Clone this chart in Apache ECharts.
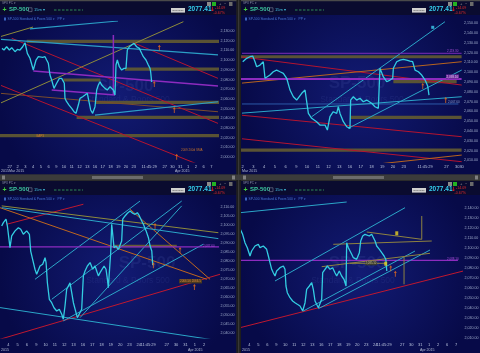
<!DOCTYPE html>
<html>
<head>
<meta charset="utf-8">
<title>SP-500</title>
<script src="https://cdn.jsdelivr.net/npm/echarts/dist/echarts.min.js"></script>
<style>
* { margin: 0; padding: 0; }
body { background: #2b2b2b; }
#mychart { width: 480px; height: 353px; }
</style>
</head>
<body>
<div id="mychart"></div>
<script>
const lastPrice = 2077.41

// x tick labels, index = tick value
const daysTL = ['', '27', '2', '3', '4', '5', '6', '9', '10', '11', '12', '13', '16', '17', '18', '19', '20', '23', '', '11:45:29', '', '27', '30', '31', '1', '2', '6', '7', '']
const daysTR = ['2', '3', '4', '5', '6', '9', '10', '11', '12', '13', '16', '17', '18', '19', '20', '23', '', '11:45:29', '', '27', '30']
const daysBL = ['4', '5', '6', '9', '10', '11', '12', '13', '16', '17', '18', '19', '20', '23', '24', '11:45:29', '', '27', '30', '31', '1', '2', '']
const daysBR = ['4', '5', '6', '9', '10', '11', '12', '13', '16', '17', '18', '19', '20', '23', '24', '11:45:29', '', '27', '30', '31', '1', '2', '6', '7']

// price paths [day, price]
const priceTL = [[0,2112.1],[0.26,2110.4],[0.6,2113.8],[0.95,2110.4],[1.25,2112.8],[1.68,2108.7],[1.98,2111.1],[2.32,2110.4],[2.67,2113.8],[2.97,2117.9],[3.27,2107],[3.61,2101.9],[4.04,2089.8],[4.39,2100.1],[4.69,2103.5],[4.9,2105.3],[5.25,2102.9],[5.55,2103.5],[5.76,2100.1],[5.98,2096.7],[6.19,2084.6],[6.41,2079.5],[6.71,2070.9],[7.05,2076.1],[7.4,2081.2],[7.7,2081.2],[7.91,2082.9],[8.04,2076.1],[8.13,2060.6],[8.34,2057.1],[8.65,2053.7],[8.99,2050.3],[9.29,2046.8],[9.55,2045.2],[9.85,2053.7],[10.06,2060.6],[10.41,2062.3],[10.71,2064],[11.01,2065.8],[11.27,2055.4],[11.44,2048.6],[11.7,2045.2],[12,2052],[12.22,2069.2],[12.43,2074.3],[12.65,2077.7],[12.86,2074.3],[13.08,2076.1],[13.29,2070.9],[13.59,2069.2],[13.94,2072.6],[14.37,2069.2],[14.58,2064],[14.71,2095],[14.88,2100.1],[15.14,2093.2],[15.44,2089.8],[15.74,2091.5],[16,2091.5],[16.17,2110.4],[16.43,2113.8],[16.73,2115.6],[17.03,2117.3],[17.38,2113.8],[17.72,2112.1],[18.02,2107],[18.24,2103.5],[18.58,2100.1],[18.88,2095],[19.1,2091.5],[19.18,2088],[19.31,2077.4]]
const priceTR = [[0,2110.7],[0.06,2112.4],[0.37,2114.2],[0.68,2115.8],[0.93,2116.5],[1.15,2110.7],[1.3,2105.6],[1.61,2107.3],[1.92,2110.7],[2.08,2093.8],[2.23,2092],[2.54,2097.1],[2.85,2100.5],[3.16,2102.2],[3.48,2100.5],[3.79,2098.9],[4.1,2093.8],[4.41,2081.8],[4.72,2075],[5.03,2071.6],[5.19,2073.4],[5.5,2078.5],[5.81,2081.8],[5.96,2080.1],[6.12,2058],[6.43,2053],[6.89,2049.5],[7.2,2046.1],[7.67,2046.1],[7.89,2041],[8.13,2054.6],[8.44,2059.7],[8.76,2058],[8.91,2064.8],[9.07,2058],[9.38,2049.5],[9.69,2044.4],[10,2042.7],[10.06,2071.6],[10.31,2075],[10.62,2071.6],[10.93,2073.4],[11.24,2069.9],[11.55,2071.6],[12.02,2068.3],[12.33,2064.8],[12.64,2063.2],[12.79,2104],[13.1,2095.4],[13.42,2090.3],[13.73,2092],[13.98,2093.8],[14.04,2104],[14.35,2110.7],[14.66,2112.4],[14.97,2113.2],[15.28,2112.4],[15.59,2111.4],[15.84,2110.7],[16.06,2102.2],[16.37,2100.5],[16.68,2097.1],[17,2092],[17.14,2090.3],[17.24,2086],[17.36,2076.7]]
const priceBL = [[-0.71,2099.2],[-0.53,2101.1],[-0.25,2103],[-0.1,2099.2],[0.18,2087.2],[0.36,2093.7],[0.72,2096.5],[1.08,2098.3],[1.33,2097.4],[1.61,2094.6],[1.97,2096.5],[2.26,2094.6],[2.4,2085.3],[2.69,2078.9],[2.86,2075.2],[3.04,2072.4],[3.22,2073.3],[3.4,2077],[3.69,2078],[3.94,2081.6],[4.05,2078.9],[4.19,2067.7],[4.4,2058.5],[4.65,2056.6],[4.9,2053.8],[5.19,2052],[5.47,2053],[5.73,2050.2],[5.9,2047.4],[6.08,2054.8],[6.26,2064.1],[6.44,2065.9],[6.62,2067.7],[6.8,2062.2],[6.98,2056.6],[7.26,2051.1],[7.41,2048.3],[7.62,2049.2],[7.87,2053],[8.05,2071.5],[8.23,2074.2],[8.48,2077],[8.77,2078.9],[9.05,2075.2],[9.3,2077],[9.48,2074.2],[9.66,2071.5],[9.84,2073.3],[10.02,2074.2],[10.27,2077],[10.48,2075.2],[10.63,2069.6],[10.73,2065],[10.91,2065.9],[10.98,2084.4],[11.09,2100.2],[11.34,2087.2],[11.56,2088.1],[11.81,2086.3],[11.99,2087.2],[12.16,2090.9],[12.27,2103],[12.52,2104.8],[12.77,2106.3],[13.06,2107.6],[13.34,2106.3],[13.59,2105.7],[13.84,2106.6],[14.06,2104.8],[14.31,2102],[14.49,2100.2],[14.78,2096.5],[15.03,2092.7],[15.21,2088.1],[15.39,2085.3],[15.49,2077.4]]
const priceBR = [[-1,2119.1],[-0.74,2114.1],[-0.48,2105.7],[-0.22,2100.7],[0.08,2092.4],[0.26,2097.4],[0.63,2102.4],[1,2104.1],[1.19,2100.7],[1.56,2102.4],[1.93,2099.1],[2.12,2092.4],[2.3,2085.7],[2.49,2079.1],[2.67,2075.7],[2.86,2072.4],[3.04,2077.4],[3.41,2080.7],[3.79,2082.4],[3.97,2079.1],[4.08,2062.4],[4.23,2055.7],[4.53,2050.7],[4.82,2047.4],[5.08,2045.7],[5.34,2044.1],[5.64,2042.4],[5.94,2037.4],[6.2,2045.7],[6.38,2059.1],[6.68,2062.4],[6.94,2065.7],[7.12,2059.1],[7.31,2047.4],[7.49,2044.1],[7.68,2040.7],[7.86,2042.4],[8.05,2049.1],[8.16,2075.7],[8.42,2079.1],[8.68,2082.4],[8.98,2079.1],[9.27,2080.7],[9.53,2075.7],[9.72,2072.4],[10.01,2077.4],[10.27,2072.4],[10.53,2069.1],[10.76,2062.4],[10.83,2105.7],[11.02,2100.7],[11.39,2094.1],[11.57,2090.7],[11.76,2092.4],[11.94,2089.1],[12.24,2095.7],[12.39,2107.4],[12.61,2112.4],[12.87,2114.1],[13.06,2115.1],[13.35,2112.4],[13.61,2114.1],[13.8,2112.4],[13.99,2107.4],[14.17,2102.4],[14.47,2099.1],[14.73,2095.7],[14.99,2092.4],[15.18,2089.1],[15.29,2077.4]]

// drawn studies, each a segment [[day, price], [day, price]]
const tlBands = [[[3.19,2119.4],[28,2119.4]], [[15.87,2090.8],[28,2090.8]], [[7.9,2079.5],[12.7,2079.5]], [[12,2056.5],[28,2056.5]], [[9.63,2041],[28,2041]], [[-0.3,2022.1],[28,2022.1]]]
const tlOlive = [[[-0.26,2055.5],[23.4,2139.6]], [[-0.26,2124.1],[4,2134.1]]]
const tlTeal = [[[-0.26,2121.4],[27.87,2105.3]], [[12,2043.4],[27.87,2057.1]], [[3.61,2132.1],[14.97,2140.3]]]
const tlPurple = [[[4.04,2088.8],[27.87,2073.3]], [[6.41,2069.2],[14.58,2064]], [[14.37,2125.9],[14.37,2064]]]
const tlRed = [[[1.25,2122.5],[27.87,2034.8]], [[16.95,2117.9],[27.87,2081.2]], [[-0.26,2074.3],[25.5,1991.9]]]
const tlBrown = [[[-0.26,2065.8],[27.87,2046.8]]]
const tlMarks = [[20.3,2112.8],[19.65,2075.4],[22.23,2048.6],[22.54,2000.4]]

const trBands = [[[-0.3,2115.8],[20.4,2115.8]], [[14.04,2090.3],[19.94,2090.3]], [[10,2054],[20.4,2054]], [[-0.3,2020.6],[20.4,2020.6]]]
const trTeal = [[[6.43,2054.6],[18.85,2151.5]], [[9.84,2042.8],[20.41,2102.2]], [[-0.25,2058.1],[20.41,2075]]]
const trBlue = [[[-0.3,2067.6],[20.1,2067.6]]]
const trPurpleThin = [[[-0.3,2119.3],[20.4,2119.3]]]
const trPurple = [[[-0.3,2093.1],[20.4,2093.1]]]
const trRed = [[[-0.25,2115.8],[20.41,2086.9]], [[-0.25,2056.3],[20.41,2034.2]], [[-0.25,2032.3],[20.41,2008.7]]]
const trOrange = [[[-0.25,2088.7],[20.41,2110.7]], [[11.7,2005.3],[20.41,2015.5]]]
const trMarks = [[16.78,2085.9],[18.92,2071.6]]
const trCyanMark = [[17.71,2145.8]]

const blOlive = [[[-0.71,2110.4],[22.53,2095.5]]]
const blTeal = [[[-0.71,2109.4],[22.53,2092.2]], [[-0.89,2053.9],[22.71,2035.4]], [[2.86,2069.6],[14.13,2113.1]], [[4.66,2058.5],[18.6,2113.1]], [[5.9,2046.5],[20.92,2089.1]], [[7.69,2048.3],[18.6,2110.4]]]
const blRed = [[[-0.17,2100.2],[8.05,2111.3]], [[-0.89,2036.3],[22.71,2072.4]]]
const blOrange = [[[-0.89,2109.4],[21.29,2069.6]], [[13.06,2108.5],[21.64,2069.6]]]
const blPurple = [[[-1,2087.6],[22.6,2087.6]]]
const blBands = [[[11.23,2088.1],[18.07,2088.1]]]
const blMarks = [[15.74,2099.2],[18.42,2085.9],[15.56,2077.4],[19.96,2065.4]]

const brTeal = [[[-1.03,2135.7],[10.83,2146.4]], [[2.86,2067.4],[17.32,2140.7]], [[6.01,2037.4],[18.43,2097.4]], [[7.68,2039.7],[20.1,2098.4]]]
const brOlive = [[[9.34,2104.1],[20.29,2107.4]], [[13.06,2116.4],[19.18,2109.1]], [[8.05,2081.7],[20.1,2095.1]], [[19.18,2132.4],[19.18,2109.1]], [[17.21,2092.4],[17.21,2064.1]], [[11.2,2085.1],[15.28,2085.1]]]
const brPurple = [[[-1,2088.1],[23.2,2088.1]]]
const brRed = [[[-1.03,2020.7],[23.8,2077.4]]]
const brMarks = [[15.73,2080.1],[16.24,2074.7]]
const brYellow = [[16.4,2115.1],[15.17,2084.7]]

function fmt(v) {
    return v.toLocaleString('en-US', { minimumFractionDigits: 2, maximumFractionDigits: 2 })
}

const FONT = '"Liberation Sans", Arial, sans-serif'

const panels = [
    { grid: { left: 2, top: 21.3, width: 217, height: 140.7 }, x: [0, 28], y: [1995, 2140], step: 10, yl: [2000, 2130], days: daysTL, xm: 2.5, ym: 1.5 },
    { grid: { left: 242.7, top: 18.3, width: 218.9, height: 144.1 }, x: [0, 20.4], y: [2008, 2155], step: 10, yl: [2010, 2150], days: daysTR, xm: 2.5, ym: 2.5 },
    { grid: { left: -1, top: 199.4, width: 220, height: 138.6 }, x: [-1, 22.6], y: [2037, 2114], step: 5, yl: [2040, 2110], days: daysBL, xm: 4.5, ym: 1.5 },
    { grid: { left: 240.3, top: 199.4, width: 221.2, height: 139 }, x: [-1, 23.6], y: [2010, 2149], step: 10, yl: [2010, 2140], days: daysBR, xm: 4, ym: 3 }
]

function segs(gi, list, color, width, z, opacity) {
    return list.map(function (p) {
        return {
            type: 'line', xAxisIndex: gi, yAxisIndex: gi, data: p, symbol: 'none', silent: true,
            lineStyle: { color: color, width: width, opacity: opacity == null ? 1 : opacity }, z: z
        }
    })
}

function marks(gi, list, color, symbol, size) {
    return {
        type: 'scatter', xAxisIndex: gi, yAxisIndex: gi, data: list, silent: true,
        symbol: symbol, symbolSize: size, itemStyle: { color: color }, z: 6
    }
}

function priceSeries(gi, data) {
    return {
        type: 'line', xAxisIndex: gi, yAxisIndex: gi, data: data, symbol: 'none', silent: true,
        lineStyle: { color: '#33cde2', width: 1.3 }, z: 5,
        markLine: {
            silent: true, symbol: ['none', 'none'],
            lineStyle: { opacity: 0 },
            label: {
                show: true, position: 'end', distance: 1.5, formatter: fmt(lastPrice),
                backgroundColor: '#cfcfcf', color: '#111', fontSize: 3.6, fontFamily: FONT,
                padding: [0.8, 1.2]
            },
            data: [{ yAxis: lastPrice }]
        }
    }
}

const arrow = 'path://M2,0L4,3H2.6V8H1.4V3H0Z'

function t(x, y, text, font, fill, align, z) {
    return {
        type: 'text', x: x, y: y, z: z == null ? 60 : z, silent: true,
        style: { text: text, font: font, fill: fill, textAlign: align || 'left', align: align || 'left', textVerticalAlign: 'middle', verticalAlign: 'middle' }
    }
}
function r(x, y, w, h, fill, z) {
    return { type: 'rect', silent: true, z: z == null ? 60 : z, shape: { x: x, y: y, width: w, height: h }, style: { fill: fill } }
}

function deco(x0, hy, w, plotBottom, wm) {
    const els = []
    els.push({
        type: 'rect', silent: true, z: -10, shape: { x: x0, y: hy + 15, width: w, height: plotBottom - hy - 15 },
        style: { fill: new echarts.graphic.RadialGradient(0.5, 0.5, 0.75, [{ offset: 0, color: '#121b74' }, { offset: 1, color: '#070a48' }]) }
    })
    els.push(r(x0, hy + 1, w, 14, '#0a0b2f', -9))
    els.push(t(x0 + 2, hy + 3.3, 'SPX PC ▾', '3px ' + FONT, '#8a8ea8'))
    els.push(t(x0 + 2.5, hy + 9.7, '+', 'bold 7px ' + FONT, '#3fcf3f'))
    els.push(t(x0 + 9, hy + 9.7, 'SP-500', 'bold 6px ' + FONT, '#3ccaa0'))
    els.push({ type: 'rect', silent: true, z: 60, shape: { x: x0 + 28.5, y: hy + 7.8, width: 3.5, height: 3.8 }, style: { fill: 'none', stroke: '#7a7f99', lineWidth: 0.6 } })
    els.push(t(x0 + 34, hy + 9.7, '15m ▾', '4px ' + FONT, '#42c2de'))
    els.push({ type: 'line', silent: true, z: 60, shape: { x1: x0 + 54, y1: hy + 10, x2: x0 + 83, y2: hy + 10 }, style: { stroke: '#2c8a55', lineWidth: 1, lineDash: [2.5, 1.5] } })
    els.push(r(x0 + 171, hy + 8, 14, 4.6, '#cfcfcf'))
    els.push(t(x0 + 178, hy + 10.4, 'Real-Time', '2.4px ' + FONT, '#333', 'center', 61))
    els.push(t(x0 + 188, hy + 9.4, '2077.41', 'bold 6.5px ' + FONT, '#35d3f2'))
    els.push(t(x0 + 210, hy + 9.6, '↓', 'bold 6px "DejaVu Sans"', '#e01e1e'))
    els.push(t(x0 + 215, hy + 8, '-14.09', '3.6px ' + FONT, '#e52a2a'))
    els.push(t(x0 + 213.5, hy + 13.3, '-0.67%', '3.6px ' + FONT, '#e52a2a'))
    els.push(r(x0 + 207, hy + 2, 4, 4, '#8a8a8a'))
    els.push(r(x0 + 212, hy + 2, 4, 4, '#22b322'))
    els.push(t(x0 + 219, hy + 4, '+', '4px ' + FONT, '#9a9a9a'))
    els.push(t(x0 + 224, hy + 4, '−', '4px ' + FONT, '#9a9a9a'))
    els.push(r(x0 + 229, hy + 2, 3.5, 4, '#6b6b6b'))
    els.push(r(x0 + 4, hy + 17.6, 2, 3, '#3c64c0'))
    els.push(t(x0 + 7.5, hy + 19.2, 'SP-500 Standard & Poors 500 ▾   PP ▾', '3.3px ' + FONT, '#4a79d6'))
    els.push(t(wm[0], wm[1], 'SP-500', 'bold 17px ' + FONT, 'rgba(120,140,215,0.11)', 'center', 1))
    els.push(t(wm[2], wm[3], 'Standard & Poors 500', '8.5px ' + FONT, 'rgba(120,140,215,0.11)', 'center', 1))
    return els
}

function initChart() {
    const chart = echarts.init(document.getElementById('mychart'))
    const grid = [], xAxis = [], yAxis = []
    panels.forEach(function (p, i) {
        grid.push(Object.assign({ show: false, outerBoundsMode: 'none', containLabel: false }, p.grid))
        xAxis.push({
            type: 'value', gridIndex: i, min: p.x[0], max: p.x[1], interval: 1,
            axisLine: { show: false }, axisTick: { show: false }, splitLine: { show: false },
            axisLabel: {
                margin: p.xm, fontSize: 4, fontFamily: FONT, color: '#b8c2dc', showMinLabel: true, showMaxLabel: true,
                formatter: function (v) { const s = p.days[Math.round(v)]; return s == null ? '' : s }
            }
        })
        yAxis.push({
            type: 'value', gridIndex: i, position: 'right', min: p.y[0], max: p.y[1], interval: 1,
            axisLine: { show: false }, axisTick: { show: false }, splitLine: { show: false },
            axisLabel: {
                margin: p.ym, fontSize: 3.6, fontFamily: FONT, color: '#9eabcb', showMinLabel: true, showMaxLabel: true,
                formatter: function (v) {
                    const n = Math.round(v)
                    return (n % p.step === 0 && n >= p.yl[0] && n <= p.yl[1]) ? fmt(n) : ''
                }
            }
        })
    })

    let series = []
    // top left
    series = series.concat(segs(0, tlBands, '#5f5733', 3.2, 2, 0.95))
    series = series.concat(segs(0, tlBrown, '#7b4d2c', 1, 3))
    series = series.concat(segs(0, tlRed, '#b5142f', 1, 3))
    series = series.concat(segs(0, tlOlive, '#8e8b3a', 1, 3))
    series = series.concat(segs(0, tlTeal, '#2b9fc6', 1.2, 3))
    series = series.concat(segs(0, tlPurple, '#8d2bbf', 1.5, 3))
    series.push(priceSeries(0, priceTL))
    series.push(marks(0, tlMarks, '#ee6f1c', arrow, [3, 6]))
    // top right
    series = series.concat(segs(1, trBands, '#5f5733', 3.2, 2, 0.95))
    series = series.concat(segs(1, trRed, '#b5142f', 1, 3))
    series = series.concat(segs(1, trOrange, '#b8641e', 1, 3))
    series = series.concat(segs(1, trBlue, '#2c5aa8', 1, 3))
    series = series.concat(segs(1, trTeal, '#2ba6c8', 1, 3))
    series = series.concat(segs(1, trPurpleThin, '#7c2cb8', 1, 3))
    series = series.concat(segs(1, trPurple, '#8d2bbf', 2.2, 3))
    series.push(priceSeries(1, priceTR))
    series.push(marks(1, trMarks, '#ee6f1c', arrow, [3, 6]))
    series.push(marks(1, trCyanMark, '#3fd0f0', 'rect', [3, 3]))
    // bottom left
    series = series.concat(segs(2, blBands, '#6b5f30', 2.6, 2, 0.95))
    series = series.concat(segs(2, blRed, '#c0182f', 1, 3))
    series = series.concat(segs(2, blOrange, '#c0671e', 1, 3))
    series = series.concat(segs(2, blOlive, '#8e8b3a', 1, 3))
    series = series.concat(segs(2, blTeal, '#2ba6c8', 1, 3))
    series = series.concat(segs(2, blPurple, '#8d2bbf', 1.3, 3))
    series.push(priceSeries(2, priceBL))
    series.push(marks(2, blMarks, '#ee6f1c', arrow, [3, 6]))
    // bottom right
    series = series.concat(segs(3, brRed, '#c0182f', 1, 3))
    series = series.concat(segs(3, brPurple, '#8d2bbf', 1.3, 3))
    series = series.concat(segs(3, brTeal, '#2ba6c8', 1, 3))
    series = series.concat(segs(3, brOlive, '#8e8240', 1, 3))
    series.push(priceSeries(3, priceBR))
    series.push(marks(3, brMarks, '#ee6f1c', arrow, [3, 6]))
    series.push(marks(3, brYellow, '#e8d020', 'rect', [3, 4]))

    let els = []
    els = els.concat(deco(0, 0, 236.5, 174.5, [125, 86, 128, 100]))
    els = els.concat(deco(241, 0, 239, 174.5, [357, 83, 362, 100]))
    els = els.concat(deco(0, 180, 236.5, 353, [147, 263, 128, 281]))
    els = els.concat(deco(241, 180, 239, 353, [357, 263, 353, 281]))

    // date rows and annotations
    const small = '3.6px ' + FONT
    els.push(t(1, 171, '2015', small, '#b4bcd4'), t(9, 171, 'Mar 2015', small, '#b4bcd4'), t(175, 171, 'Apr 2015', small, '#b4bcd4'))
    els.push(t(242, 171, 'Mar 2015', small, '#b4bcd4'))
    els.push(t(1, 349.5, '2015', small, '#b4bcd4'), t(188, 349.5, 'Apr 2015', small, '#b4bcd4'))
    els.push(t(242, 349.5, '2015', small, '#b4bcd4'), t(420, 349.5, 'Apr 2015', small, '#b4bcd4'))
    els.push(t(36, 135.7, 'GAPS', '3px ' + FONT, '#d07a2a', 'left', 7))
    els.push(t(181, 150, '2009 200d SMA', '3px ' + FONT, '#c0702a', 'left', 7))
    els.push(t(447, 51.5, fmt(trPurpleThin[0][0][1]), '3px ' + FONT, '#b050e0', 'left', 7))
    els.push(r(446, 74.5, 13, 4.4, '#6b2a9a', 7), t(446.5, 76.8, fmt(trPurple[0][0][1]), '3px ' + FONT, '#e0c8f0', 'left', 8))
    els.push(t(448, 101.7, fmt(trBlue[0][0][1]), '3px ' + FONT, '#8aa0d0', 'left', 7))
    els.push(t(203, 246, fmt(blPurple[0][0][1]), '3px ' + FONT, '#b050e0', 'left', 7))
    els.push(r(179, 279, 23, 4.4, '#4a3a20', 7), t(180, 281.3, '2066.56 2066.5', '3px ' + FONT, '#e08a3a', 'left', 8))
    els.push(t(447, 258.7, fmt(brPurple[0][0][1]), '3px ' + FONT, '#b050e0', 'left', 7))
    els.push(r(365, 261.3, 12, 4, '#3a3a30', 7), t(365.5, 263.3, fmt(brOlive[5][0][1]), '2.8px ' + FONT, '#c8c090', 'left', 8))

    // separators and scroll bars
    els.push(r(0, 0, 480, 1.2, '#4a4a4a', 90))
    els.push(r(236.5, 0, 4.5, 353, '#1d1d1d', 90), r(238.2, 0, 1, 353, '#3f3f3f', 91))
    els.push(r(0, 174.5, 480, 5.5, '#3b3b3b', 90))
    els.push(r(92, 176, 51, 3, '#6c6c6c', 91), r(333, 176, 51, 3, '#6c6c6c', 91))
    els.push(r(2, 175.5, 3, 4, '#808080', 91), r(232, 175.5, 3, 4, '#808080', 91))
    els.push(r(243, 175.5, 3, 4, '#808080', 91), r(475, 175.5, 3, 4, '#808080', 91))

    const option = {
        animation: false,
        backgroundColor: '#2b2b2b',
        grid: grid,
        xAxis: xAxis,
        yAxis: yAxis,
        series: series,
        graphic: { elements: els }
    }
    chart.setOption(option)
    window.addEventListener('resize', function () {
        chart.resize()
    })
}

initChart()
</script>
</body>
</html>
